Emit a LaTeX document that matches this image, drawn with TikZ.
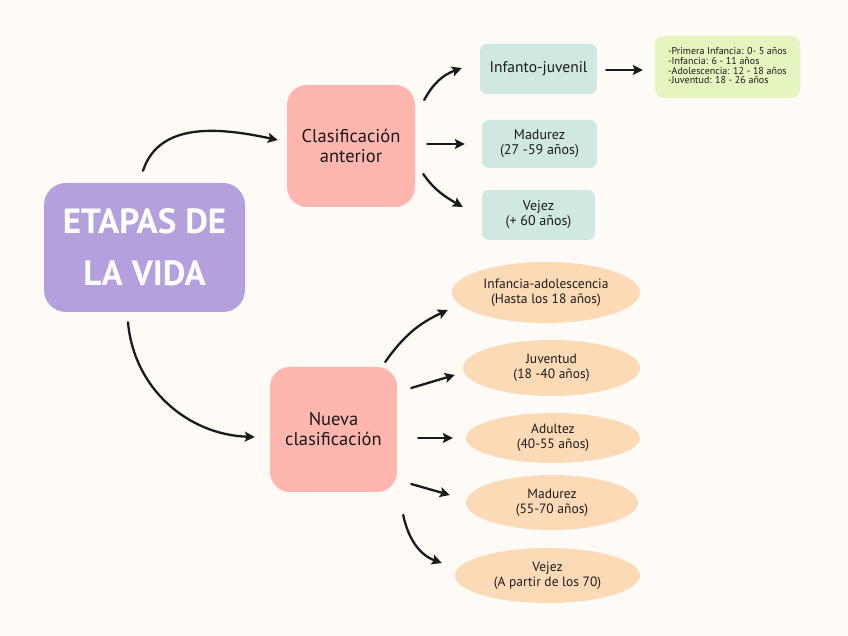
\documentclass[tikz,border=0pt]{standalone}
\usepackage{fontspec}
\setmainfont{PT Sans}
\usetikzlibrary{calc,arrows.meta,shapes.geometric}
\definecolor{bg}{HTML}{FEFAF6}
\definecolor{purp}{HTML}{B3A0DC}
\definecolor{pinkb}{HTML}{FFB6AF}
\definecolor{tealb}{HTML}{CFE8E1}
\definecolor{greenb}{HTML}{E4F5BF}
\definecolor{peach}{HTML}{FDDAB6}
\definecolor{ink}{HTML}{1A1A1A}
\tikzset{
  mainbox/.style={fill=purp, rounded corners=22pt, text=white, font=\bfseries\fontsize{35}{52}\selectfont, align=center, inner sep=0pt},
  pinkbox/.style={fill=pinkb, rounded corners=20pt, text=ink, font=\fontsize{18.5}{20}\selectfont, align=center, inner sep=0pt},
  tealbox/.style={fill=tealb, rounded corners=7pt, text=ink, font=\fontsize{14}{15}\selectfont, align=center, inner sep=0pt},
  greenbox/.style={fill=greenb, rounded corners=9pt, text=ink, font=\fontsize{10}{9}\selectfont, align=left, inner sep=0pt},
  pill/.style={ellipse, fill=peach, text=ink, font=\fontsize{13.5}{15}\selectfont, align=center, inner sep=0pt},
  arr/.style={draw=ink, line width=2.3pt, line cap=round, -{Stealth[length=10pt,width=10pt,inset=2pt]}},
}
\begin{document}
\begin{tikzpicture}[x=1pt,y=1pt]
\fill[bg] (0,0) rectangle (848,636);
\useasboundingbox (0,0) rectangle (848,636);

\node[mainbox, minimum width=201pt, minimum height=129pt] (etapas) at (144.5,388.5) {ETAPAS DE\\LA VIDA};
\node[pinkbox, minimum width=128pt, minimum height=122pt] (clasant) at (351,490) {Clasificación\\anterior};
\node[tealbox, minimum width=117pt, minimum height=50pt, font=\fontsize{15.5}{16}\selectfont] (infj) at (538.5,567) {Infanto-juvenil};
\node[tealbox, minimum width=115pt, minimum height=48pt] (mad1) at (539.5,492) {Madurez\\(27 -59 años)};
\node[tealbox, minimum width=113pt, minimum height=50pt] (vej1) at (538.5,421) {Vejez\\(+ 60 años)};
\node[greenbox, minimum width=145pt, minimum height=62pt] (green) at (727.5,569) {\begin{tabular}{@{}l@{}}-Primera Infancia: 0- 5 años\\-Infancia: 6 - 11 años\\-Adolescencia: 12 - 18 años\\-Juventud: 18 - 26 años\end{tabular}};
\node[pinkbox, minimum width=127pt, minimum height=125pt] (nueva) at (333.5,206.5) {Nueva\\clasificación};
\node[pill, minimum width=188pt, minimum height=61pt] (e1) at (546,343.5) {Infancia-adolescencia\\(Hasta los 18 años)};
\node[pill, minimum width=177pt, minimum height=56pt] (e2) at (551.5,268) {Juventud\\(18 -40 años)};
\node[pill, minimum width=174pt, minimum height=50pt] (e3) at (553,198) {Adultez\\(40-55 años)};
\node[pill, minimum width=172pt, minimum height=55pt] (e4) at (552,133.5) {Madurez\\(55-70 años)};
\node[pill, minimum width=185pt, minimum height=55pt] (e5) at (547.5,60.5) {Vejez\\(A partir de los 70)};

\draw[arr] ($(etapas.north)+(-1.5,12)$) to[out=72,in=168] ($(clasant.west)+(-9,6)$);
\draw[arr] ($(etapas.south)+(-16.5,-10)$) to[out=-85,in=178] ($(nueva.west)+(-15,-7.5)$);
\draw[arr] ($(clasant.east)+(9,46)$) to[out=62,in=200] ($(infj.west)+(-18,1)$);
\draw[arr] ($(clasant.east)+(12,2)$) -- ($(mad1.west)+(-17,0)$);
\draw[arr] ($(clasant.east)+(8,-28)$) to[out=-55,in=150] ($(vej1.west)+(-19,8)$);
\draw[arr] ($(infj.east)+(9,-1)$) -- ($(green.west)+(-12,-3)$);
\draw[arr] ($(nueva.east)+(-12,67.5)$) to[out=55,in=205] ($(e1.west)+(-4,-17.5)$);
\draw[arr] ($(nueva.east)+(14,41.5)$) -- ($(e2.west)+(-8,-7)$);
\draw[arr] ($(nueva.east)+(21,-8.5)$) -- ($(e3.west)+(-13,0)$);
\draw[arr] ($(nueva.east)+(14,-54.5)$) -- ($(e4.west)+(-16,7.5)$);
\draw[arr] ($(nueva.east)+(6,-85.5)$) to[out=-78,in=160] ($(e5.west)+(-13,12.5)$);
\end{tikzpicture}
\end{document}
